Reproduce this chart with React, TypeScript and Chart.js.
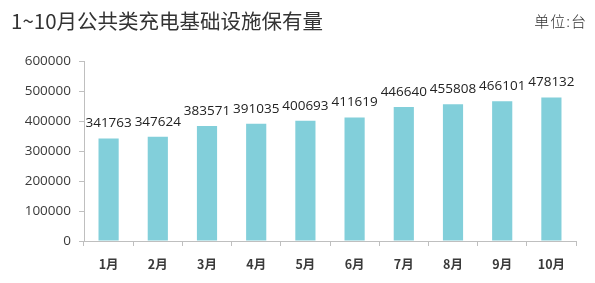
import React, { useEffect, useRef } from "react";
import { Chart, registerables } from "chart.js";

Chart.register(...registerables);

const TITLE = "1~10月公共类充电基础设施保有量";
const UNIT = "单位:台";
const MONTHS = ["1月", "2月", "3月", "4月", "5月", "6月", "7月", "8月", "9月", "10月"];
const VALUES = [341763, 347624, 383571, 391035, 400693, 411619, 446640, 455808, 466101, 478132];
const Y_MAX = 600000;
const Y_STEP = 100000;

const FONT = "'Noto Sans CJK SC', 'Open Sans', sans-serif";

const overlay = {
  id: "overlay",
  afterDatasetsDraw(chart: any) {
    const ctx = chart.ctx;
    ctx.save();
    ctx.fillStyle = "#333333";
    ctx.font = `400 20.5px ${FONT}`;
    ctx.textAlign = "left";
    ctx.textBaseline = "middle";
    ctx.fillText(TITLE, 11, 21);
    ctx.font = `300 15px ${FONT}`;
    ctx.textAlign = "right";
    (ctx as any).letterSpacing = "1px";
    ctx.fillText(UNIT, 587, 21);
    (ctx as any).letterSpacing = "0px";
    const meta = chart.getDatasetMeta(0);
    ctx.font = `400 13.5px 'Open Sans', 'Noto Sans', sans-serif`;
    ctx.fillStyle = "#222222";
    ctx.textAlign = "center";
    ctx.textBaseline = "middle";
    meta.data.forEach((bar: any, i: number) => {
      ctx.fillText(String(VALUES[i]), bar.x, bar.y - 15);
    });
    ctx.restore();
  },
};

export default function App() {
  const ref = useRef<HTMLCanvasElement>(null);
  useEffect(() => {
    if (!ref.current) return;
    const chart = new Chart(ref.current, {
      type: "bar",
      data: {
        labels: MONTHS,
        datasets: [
          {
            data: VALUES,
            backgroundColor: "#82CFDA",
            categoryPercentage: 1,
            barPercentage: 0.41,
          },
        ],
      },
      options: {
        responsive: false,
        animation: false,
        layout: { padding: { top: 61, right: 19, left: 0, bottom: 0 } },
        plugins: { legend: { display: false }, tooltip: { enabled: false } },
        scales: {
          x: {
            grid: { drawOnChartArea: false, drawTicks: true, tickLength: 5, color: "#bfbfbf", offset: true },
            border: { color: "#bfbfbf" },
            ticks: { color: "#3a3a3a", font: { family: FONT, size: 12.5, weight: 600 }, padding: 11 },
            afterFit: (s: any) => { s.height = 42; },
          },
          y: {
            min: 0,
            max: Y_MAX,
            ticks: {
              stepSize: Y_STEP,
              color: "#3a3a3a",
              font: { family: "'Open Sans', sans-serif", size: 13.5 },
              padding: 8,
              callback: (v: any) => String(v),
            },
            grid: { drawOnChartArea: false, drawTicks: true, tickLength: 5, color: "#bfbfbf" },
            border: { color: "#bfbfbf" },
            afterFit: (s: any) => { s.width = 84; },
          },
        },
      },
      plugins: [overlay],
    });
    return () => chart.destroy();
  }, []);
  return (
    <div style={{ position: "fixed", left: 0, top: 0, width: 595, height: 283, background: "#fff" }}>
      <canvas ref={ref} width={595} height={283} style={{ width: 595, height: 283 }} />
    </div>
  );
}
